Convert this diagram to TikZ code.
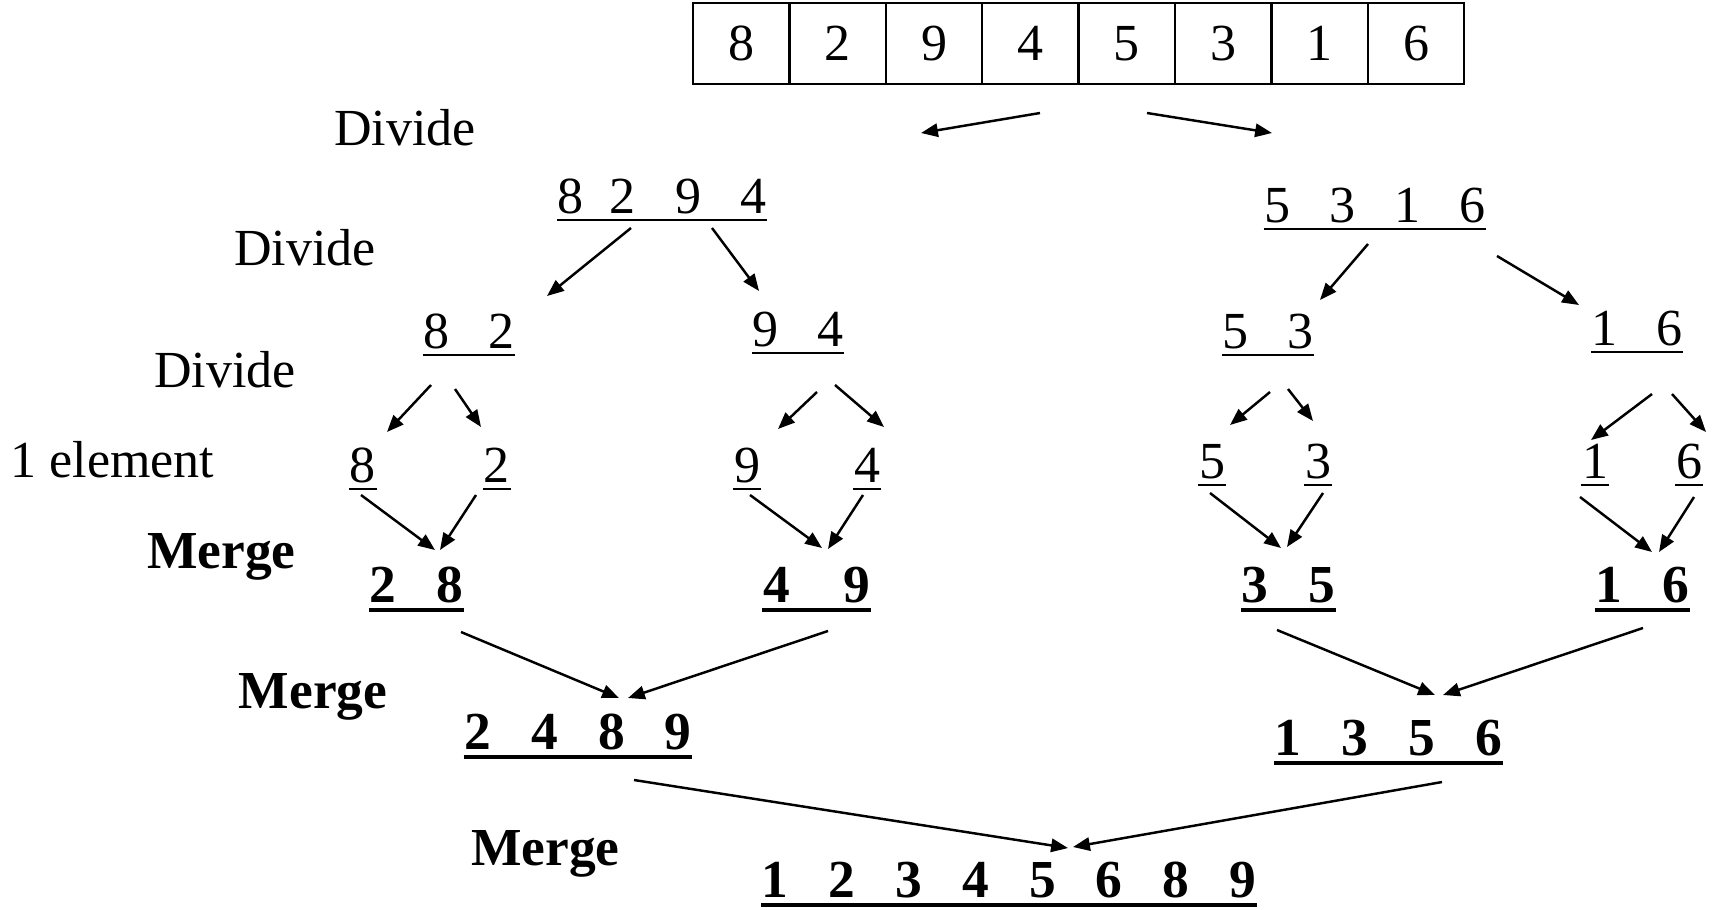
\documentclass[tikz,border=0pt]{standalone}
\usepackage{fontspec}
\setmainfont{Liberation Serif}
\usetikzlibrary{arrows.meta}
\newcommand{\rfont}{\fontsize{14.8pt}{17pt}\selectfont}
\newcommand{\bfont}{\fontsize{15.2pt}{18pt}\selectfont\bfseries}
\tikzset{
  cell/.style={rectangle, draw, line width=0.7pt, minimum width=0.964cm,
               minimum height=0.81cm, inner sep=0pt, font=\rfont},
  txt/.style={inner sep=0pt, anchor=base, font=\rfont},
  lbl/.style={txt},
  blbl/.style={txt, font=\bfont},
  row/.style={txt, append after command={
      ([yshift=-0.07cm]\tikzlastnode.base west) edge[line width=0.6pt]
      ([yshift=-0.07cm]\tikzlastnode.base east)}},
  brow/.style={txt, font=\bfont, append after command={
      ([yshift=-0.08cm]\tikzlastnode.base west) edge[line width=1.05pt]
      ([yshift=-0.08cm]\tikzlastnode.base east)}},
  arr/.style={-{Triangle[length=4.8pt, width=3.8pt]}, line width=0.7pt},
}
\begin{document}
\begin{tikzpicture}[x=0.01cm, y=-0.01cm]
  \useasboundingbox (0,0) rectangle (1716,909);

  % Input array
  \foreach \v [count=\i] in {8,2,9,4,5,3,1,6}
    \node[cell] (c\i) at ({693+96.4*(\i-0.5)},43.5) {\v};

  % Side labels
  \node[lbl] (div1) at (405,145) {Divide};
  \node[lbl] (div2) at (305,265) {Divide};
  \node[lbl] (div3) at (225,387) {Divide};
  \node[lbl] (one) at (112.5,477) {1 element};
  \node[blbl] (mrg1) at (221.5,568) {Merge};
  \node[blbl] (mrg2) at (313,708) {Merge};
  \node[blbl] (mrg3) at (545.5,865) {Merge};

  % Level 1
  \node[row] (r8294) at (662,213) {8~~2~~~9~~~4};
  \node[row] (r5316) at (1375,222) {5~~~3~~~1~~~6};

  % Level 2
  \node[row] (r82) at (469,348) {8~~~2};
  \node[row] (r94) at (798,346) {9~~~4};
  \node[row] (r53) at (1268,348) {5~~~3};
  \node[row] (r16) at (1637,345) {1~~~6};

  % Level 3 -- 1 element
  \node[row] (s8) at (363,482) {8};
  \node[row] (s2) at (497,482) {2};
  \node[row] (s9) at (747,482) {9};
  \node[row] (s4) at (867,482) {4};
  \node[row] (s5) at (1212,478) {5};
  \node[row] (s3) at (1318,478) {3};
  \node[row] (s1) at (1595,478) {1};
  \node[row] (s6) at (1689,478) {6};

  % Merged pairs
  \node[brow] (m28) at (416.5,602) {2~~~8};
  \node[brow] (m49) at (816.5,602) {4~~~~9};
  \node[brow] (m35) at (1288.5,602) {3~~~5};
  \node[brow] (m16) at (1642,602) {1~~~6};

  % Merged halves
  \node[brow] (m2489) at (578,749) {2~~~4~~~8~~~9};
  \node[brow] (m1356) at (1388.5,755) {1~~~3~~~5~~~6};

  % Result
  \node[brow] (sorted) at (1009,897) {1~~~2~~~3~~~4~~~5~~~6~~~8~~~9};

  % Divide arrows
  \draw[arr] ([shift={(9.6,69.5)}]c4.center) -- ([shift={(259,-80)}]r8294.base);
  \draw[arr] ([shift={(20.2,69.5)}]c5.center) -- ([shift={(-103,-89)}]r5316.base);
  \draw[arr] ([shift={(-31,15)}]r8294.base) -- ([shift={(78,-52)}]r82.base);
  \draw[arr] ([shift={(50,15)}]r8294.base) -- ([shift={(-39,-55)}]r94.base);
  \draw[arr] ([shift={(-7,22)}]r5316.base) -- ([shift={(52,-48)}]r53.base);
  \draw[arr] ([shift={(122,34)}]r5316.base) -- ([shift={(-58,-40)}]r16.base);
  \draw[arr] ([shift={(-38,37)}]r82.base) -- ([shift={(24,-50)}]s8.base);
  \draw[arr] ([shift={(-14,41)}]r82.base) -- ([shift={(-16,-55)}]s2.base);
  \draw[arr] ([shift={(19,46)}]r94.base) -- ([shift={(31,-53)}]s9.base);
  \draw[arr] ([shift={(37,39)}]r94.base) -- ([shift={(17,-55)}]s4.base);
  \draw[arr] ([shift={(2,44)}]r53.base) -- ([shift={(18,-53)}]s5.base);
  \draw[arr] ([shift={(20,41)}]r53.base) -- ([shift={(-5,-57)}]s3.base);
  \draw[arr] ([shift={(15,49)}]r16.base) -- ([shift={(-4,-38)}]s1.base);
  \draw[arr] ([shift={(35,49)}]r16.base) -- ([shift={(17,-46)}]s6.base);

  % Merge arrows
  \draw[arr] ([shift={(-2,13)}]s8.base) -- ([shift={(18.5,-52)}]m28.base);
  \draw[arr] ([shift={(-21,13)}]s2.base) -- ([shift={(23.5,-52)}]m28.base);
  \draw[arr] ([shift={(3,13)}]s9.base) -- ([shift={(5.5,-54)}]m49.base);
  \draw[arr] ([shift={(-4,13)}]s4.base) -- ([shift={(11.5,-53)}]m49.base);
  \draw[arr] ([shift={(-2,15)}]s5.base) -- ([shift={(-7.5,-54)}]m35.base);
  \draw[arr] ([shift={(5,15)}]s3.base) -- ([shift={(-1.5,-55)}]m35.base);
  \draw[arr] ([shift={(-15,19)}]s1.base) -- ([shift={(10,-50)}]m16.base);
  \draw[arr] ([shift={(5,19)}]s6.base) -- ([shift={(17,-50)}]m16.base);
  \draw[arr] ([shift={(44.5,30)}]m28.base) -- ([shift={(41,-51)}]m2489.base);
  \draw[arr] ([shift={(11.5,29)}]m49.base) -- ([shift={(50,-51)}]m2489.base);
  \draw[arr] ([shift={(-11.5,28)}]m35.base) -- ([shift={(46.5,-60)}]m1356.base);
  \draw[arr] ([shift={(1,26)}]m16.base) -- ([shift={(54.5,-60)}]m1356.base);
  \draw[arr] ([shift={(56,31)}]m2489.base) -- ([shift={(59,-49)}]sorted.base);
  \draw[arr] ([shift={(53.5,27)}]m1356.base) -- ([shift={(64,-50)}]sorted.base);
\end{tikzpicture}
\end{document}
